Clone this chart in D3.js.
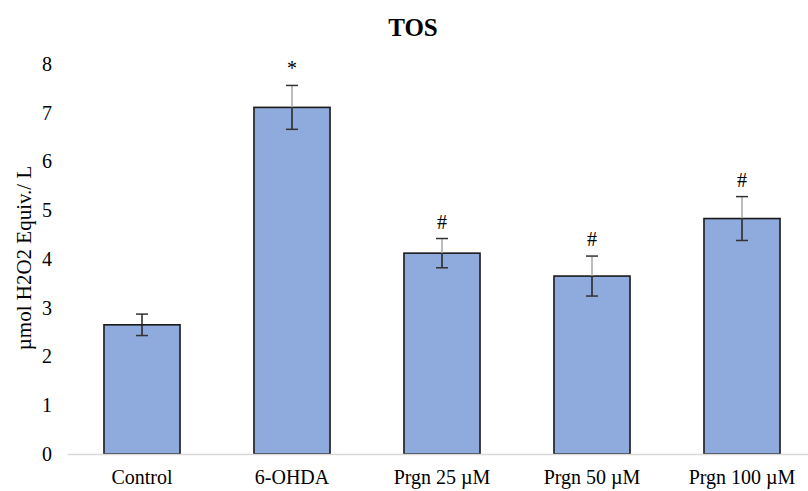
<!DOCTYPE html>
<html>
<head>
<meta charset="utf-8">
<script src="https://cdn.jsdelivr.net/npm/d3@7"></script>
<style>
  html, body { margin: 0; padding: 0; background: #fff; }
  text { font-family: "Liberation Serif", "Times New Roman", serif; fill: #000; }
</style>
</head>
<body>
<svg id="chart" width="808" height="491"></svg>
<script>
// TOS measurements per treatment group
const categories = ["Control", "6-OHDA", "Prgn 25 \u00b5M", "Prgn 50 \u00b5M", "Prgn 100 \u00b5M"];
const means = [2.65, 7.11, 4.12, 3.65, 4.83];
const errors = [0.22, 0.45, 0.30, 0.41, 0.45];
const marks = ["", "*", "#", "#", "#"];
const yTicks = [0, 1, 2, 3, 4, 5, 6, 7, 8];

const svg = d3.select("#chart");
const x0 = 67, x1 = 817, yBottom = 454, yTop = 64;
const labelSize = "20px";

const x = d3.scaleBand().domain(categories).range([x0, x1]).paddingInner(0.493).paddingOuter(0.2465);
const y = d3.scaleLinear().domain([0, 8]).range([yBottom, yTop]);

// Title
svg.append("text").attr("x", 413).attr("y", 36).attr("text-anchor", "middle")
  .style("font-size", "25px").style("font-weight", "bold").text("TOS");

// Y axis title
svg.append("text").attr("transform", "translate(31,258) rotate(-90)")
  .attr("text-anchor", "middle").style("font-size", "21px")
  .text("\u00b5mol H2O2 Equiv./ L");

// Y axis (labels only)
const yAxis = svg.append("g").attr("transform", `translate(${x0},0)`)
  .call(d3.axisLeft(y).tickValues(yTicks).tickSize(0).tickPadding(15).tickFormat(d3.format("d")));
yAxis.select(".domain").remove();
yAxis.attr("font-size", null).attr("font-family", null);
yAxis.selectAll("text").style("font-size", labelSize);

// Bars
svg.append("g").selectAll("rect").data(categories).join("rect")
  .attr("x", d => x(d))
  .attr("y", (d, i) => y(means[i]))
  .attr("width", x.bandwidth())
  .attr("height", (d, i) => y(0) - y(means[i]))
  .attr("fill", "#8FAADC")
  .attr("stroke", "#1a1a1a")
  .attr("stroke-width", 1.6);

// X axis line and category labels
const xAxis = svg.append("g").attr("transform", `translate(0,${yBottom})`)
  .call(d3.axisBottom(x).tickSize(0).tickPadding(16));
xAxis.attr("font-size", null).attr("font-family", null);
xAxis.select(".domain").attr("stroke", "#d9d9d9").attr("stroke-width", 1.5);
xAxis.selectAll("text").style("font-size", labelSize);

// Error bars and significance marks
const eb = svg.append("g");
categories.forEach((c, i) => {
  const cx = x(c) + x.bandwidth() / 2;
  const yMean = y(means[i]), yHi = y(means[i] + errors[i]), yLo = y(means[i] - errors[i]);
  eb.append("line").attr("x1", cx).attr("x2", cx).attr("y1", yHi).attr("y2", yMean)
    .attr("stroke", i === 0 ? "#222" : "#a6a6a6").attr("stroke-width", 1.5);
  eb.append("line").attr("x1", cx).attr("x2", cx).attr("y1", yMean).attr("y2", yLo)
    .attr("stroke", "#222").attr("stroke-width", 1.5);
  [yHi, yLo].forEach(yy => {
    eb.append("line").attr("x1", cx - 6).attr("x2", cx + 6).attr("y1", yy).attr("y2", yy)
      .attr("stroke", "#333").attr("stroke-width", 1.5);
  });
  if (marks[i]) {
    eb.append("text").attr("x", cx).attr("y", yHi - 10).attr("text-anchor", "middle")
      .style("font-size", "20px").text(marks[i]);
  }
});
</script>
</body>
</html>
